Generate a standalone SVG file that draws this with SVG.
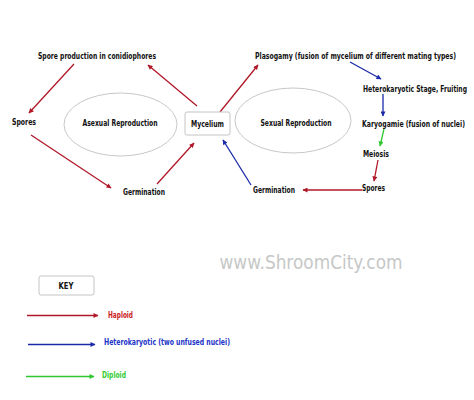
<svg xmlns="http://www.w3.org/2000/svg" width="474" height="400" viewBox="0 0 474 400">
<defs>
<style>
.t{font-family:"Liberation Sans Narrow","DejaVu Sans Condensed","Liberation Sans",Arial,sans-serif;font-size:8.5px;font-weight:bold;fill:#111;}
.c{text-anchor:middle;}
.r{stroke:#b01828;stroke-width:1.3;fill:none;marker-end:url(#mr);}
.b{stroke:#1a2aa8;stroke-width:1.3;fill:none;marker-end:url(#mb);}
.g{stroke:#2ec82e;stroke-width:1.3;fill:none;marker-end:url(#mg);}
.box{fill:#fff;stroke:#c4c4c4;stroke-width:1;}
.ell{fill:#fff;stroke:#c8c8c8;stroke-width:1;}
</style>
<marker id="mr" viewBox="0 0 10 10" refX="9" refY="5" markerWidth="6" markerHeight="5" orient="auto" markerUnits="userSpaceOnUse"><path d="M0,0L10,5L0,10z" fill="#b01828"/></marker>
<marker id="mb" viewBox="0 0 10 10" refX="9" refY="5" markerWidth="6" markerHeight="5" orient="auto" markerUnits="userSpaceOnUse"><path d="M0,0L10,5L0,10z" fill="#1a2aa8"/></marker>
<marker id="mg" viewBox="0 0 10 10" refX="9" refY="5" markerWidth="6" markerHeight="5" orient="auto" markerUnits="userSpaceOnUse"><path d="M0,0L10,5L0,10z" fill="#2ec82e"/></marker>
</defs>
<rect width="474" height="400" fill="#fff"/>
<text x="311" y="269" style="font-family:'DejaVu Sans',Verdana,sans-serif;font-size:19px;fill:#c6c8c7;" text-anchor="middle" textLength="183" lengthAdjust="spacingAndGlyphs">www.ShroomCity.com</text>
<g id="connectors">
<line class="r" x1="74" y1="64" x2="29" y2="113"/>
<line class="r" x1="197" y1="106" x2="148" y2="65"/>
<line class="r" x1="31" y1="135" x2="111" y2="188"/>
<line class="r" x1="157" y1="184" x2="194" y2="143"/>
<line class="r" x1="220" y1="112" x2="258" y2="65"/>
<line class="b" x1="350" y1="62" x2="381" y2="79"/>
<line class="b" x1="383" y1="94" x2="383" y2="116"/>
<line class="g" x1="384" y1="129" x2="380" y2="146"/>
<line class="r" x1="378" y1="160" x2="374" y2="181"/>
<line class="r" x1="362" y1="190" x2="303" y2="190"/>
<line class="b" x1="251" y1="185" x2="223" y2="140"/>
</g>
<g id="asexual"><ellipse class="ell" cx="120.5" cy="124.5" rx="56.5" ry="31.5"/><text class="t c" x="120" y="126" textLength="75" lengthAdjust="spacingAndGlyphs">Asexual Reproduction</text></g>
<g id="sexual"><ellipse class="ell" cx="293" cy="120.5" rx="58" ry="32.5"/><text class="t c" x="296" y="126" textLength="71" lengthAdjust="spacingAndGlyphs">Sexual Reproduction</text></g>
<g id="mycelium"><rect class="box" x="185" y="112" width="45" height="23" rx="2"/><text class="t c" x="207.5" y="127" textLength="33" lengthAdjust="spacingAndGlyphs">Mycelium</text></g>
<g id="spore-production"><text class="t" x="38" y="59" textLength="118" lengthAdjust="spacingAndGlyphs">Spore production in conidiophores</text></g>
<g id="spores-a"><text class="t" x="12" y="125" textLength="24" lengthAdjust="spacingAndGlyphs">Spores</text></g>
<g id="germination-a"><text class="t" x="123" y="195" textLength="42" lengthAdjust="spacingAndGlyphs">Germination</text></g>
<g id="plasogamy"><text class="t" x="255" y="59" textLength="201" lengthAdjust="spacingAndGlyphs">Plasogamy (fusion of mycelium of different mating types)</text></g>
<g id="heterokaryotic"><text class="t" x="363" y="92" textLength="104" lengthAdjust="spacingAndGlyphs">Heterokaryotic Stage, Fruiting</text></g>
<g id="karyogamie"><text class="t" x="362" y="127" textLength="103" lengthAdjust="spacingAndGlyphs">Karyogamie (fusion of nuclei)</text></g>
<g id="meiosis"><text class="t" x="363" y="157" textLength="26" lengthAdjust="spacingAndGlyphs">Meiosis</text></g>
<g id="spores-s"><text class="t" x="362" y="191" textLength="23" lengthAdjust="spacingAndGlyphs">Spores</text></g>
<g id="germination-s"><text class="t" x="253" y="193" textLength="42" lengthAdjust="spacingAndGlyphs">Germination</text></g>
<g id="key"><rect class="box" x="39" y="276" width="55" height="19" rx="2"/><text class="t c" x="66" y="289" textLength="15" lengthAdjust="spacingAndGlyphs">KEY</text></g>
<g id="legend">
<line class="r" x1="27" y1="315.5" x2="98" y2="315.5"/>
<text class="t" x="108" y="318" style="fill:#cc1a1a" textLength="25" lengthAdjust="spacingAndGlyphs">Haploid</text>
<line class="b" x1="28" y1="344.5" x2="95" y2="344.5"/>
<text class="t" x="104" y="345" style="fill:#2234c8" textLength="126" lengthAdjust="spacingAndGlyphs">Heterokaryotic (two unfused nuclei)</text>
<line class="g" x1="26" y1="376.5" x2="94" y2="376.5"/>
<text class="t" x="102" y="378" style="fill:#33cc33" textLength="24" lengthAdjust="spacingAndGlyphs">Diploid</text>
</g>
</svg>
